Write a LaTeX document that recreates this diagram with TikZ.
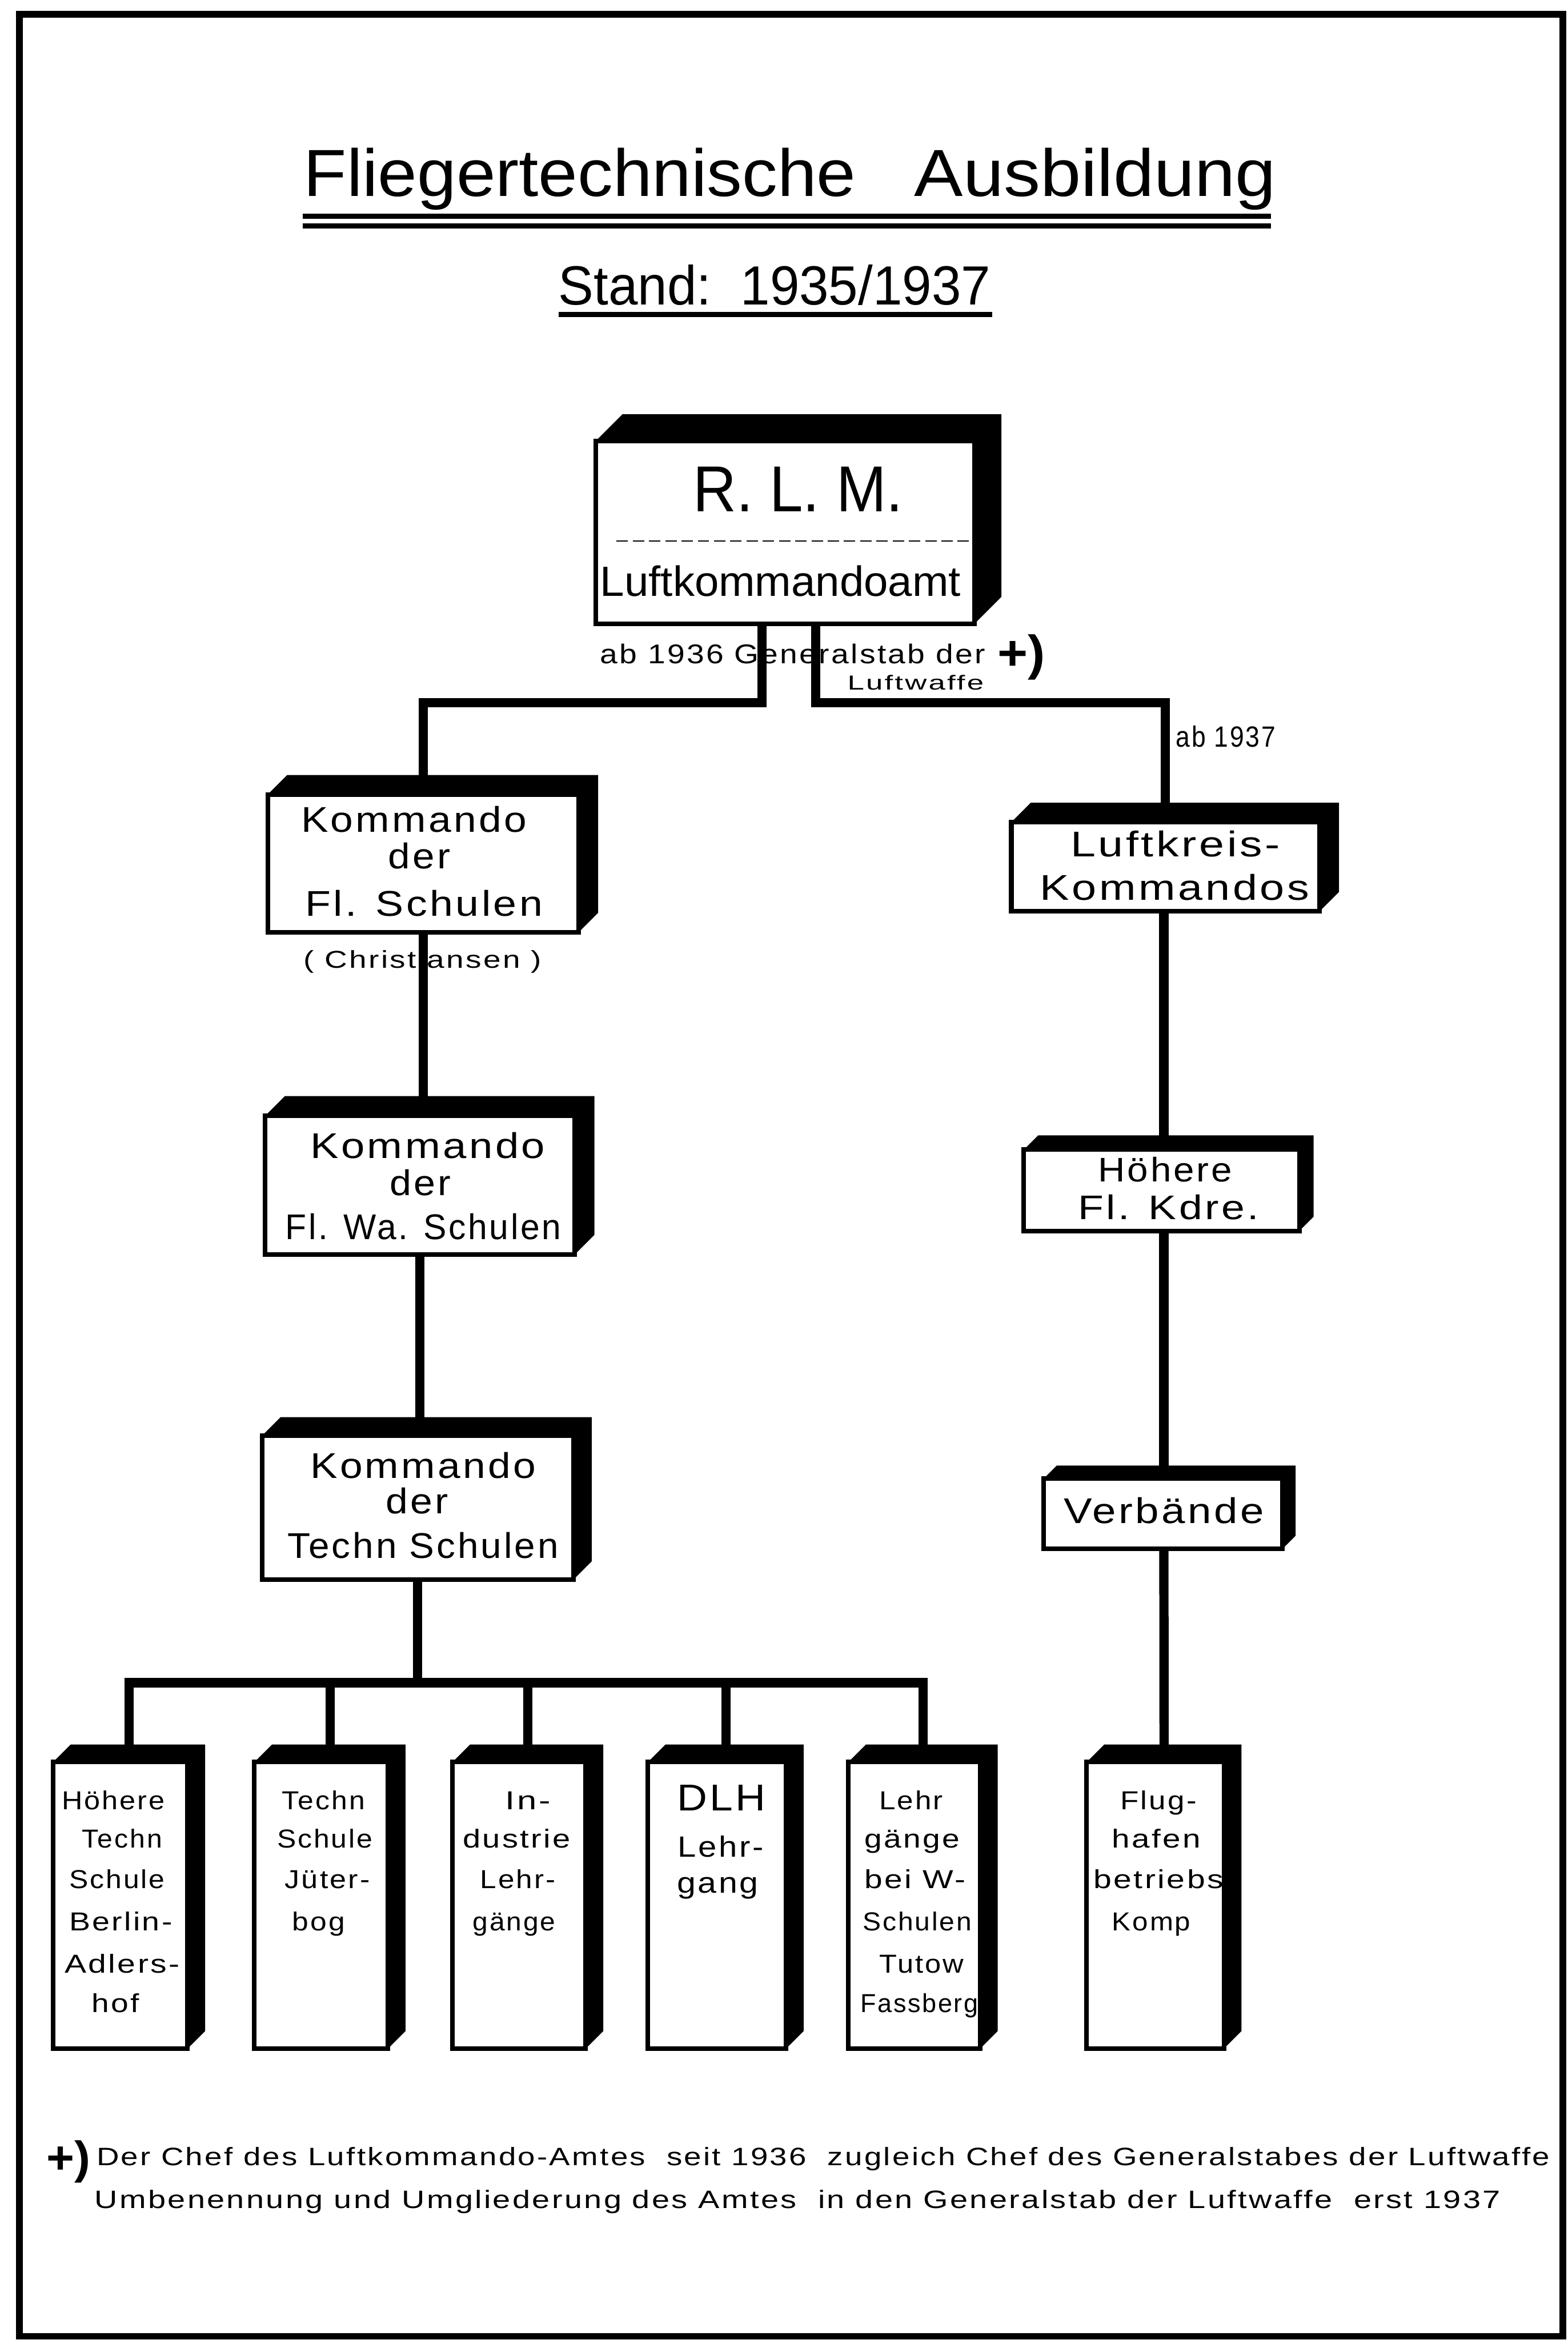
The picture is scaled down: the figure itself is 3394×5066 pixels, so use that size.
\documentclass[tikz,border=0pt]{standalone}
\usepackage{fontspec}
\setmainfont{Liberation Sans}
\newfontfamily\lsp[LetterSpace=6]{Liberation Sans}
\usetikzlibrary{calc}
\newcommand\fw[2]{\resizebox{#1}{\height}{#2}}
\newcommand\fs[1]{\fontsize{#1}{#1}\selectfont}
\newcommand\boxshadow[2]{%
  \fill (#1.north west) -- ++(#2,-#2) -- ($(#1.north east)+(#2,-#2)$)
    -- ($(#1.south east)+(#2,-#2)$) -- (#1.south east) -- (#1.north east) -- cycle;}
\tikzset{
  txt/.style={anchor=base, inner sep=0pt, outer sep=0pt},
  box/.style={draw, line width=2.85pt, fill=white, inner sep=0pt, outer sep=0pt},
  conn/.style={line width=5.7pt, line join=miter},
  rulel/.style={line width=3pt},
}
\begin{document}
\begin{tikzpicture}[x=0.01cm,y=-0.01cm]
\useasboundingbox (0,0) rectangle (3394,5066);
\draw[line width=4pt] (42,31) rectangle (3384,5058);

% title
\node[txt, font=\fs{41}] (title1) at (1255.5,425) {\fw{11.95cm}{Fliegertechnische}};
\node[txt, font=\fs{41}] (title2) at (2371.5,425) {\fw{7.83cm}{Ausbildung}};
\draw[rulel] (655,468) -- (2752,468);
\draw[rulel] (655,489) -- (2752,489);
\node[txt, font=\fs{34}] (sub) at (1677,660) {\fw{9.35cm}{Stand:~~1935/1937}};
\draw[rulel] (1210,681) -- (2148,681);

% labels under RLM
\node[txt, font=\fs{16.7}\lsp] (lab1) at (1716.5,1437) {\fw{8.33cm}{ab 1936 Generalstab der}};
\node[txt, font=\fs{12.5}\lsp] (lab2) at (1982.5,1494) {\fw{2.95cm}{Luftwaffe}};
\node[inner sep=0pt, font=\fs{30}\bfseries] (plus1) at (2211,1423) {\fw{1.03cm}{+)}};
\node[txt, font=\fs{18}\lsp] (lab3) at (2654,1617) {\fw{2.15cm}{ab 1937}};
\node[txt, font=\fs{15}\lsp] (chr) at (915,2096) {\fw{5.14cm}{( Christiansen )}};

% boxes
\node[box, minimum width=8.20cm, minimum height=3.95cm] (rlm) at (1700,1152.5) {};
\boxshadow{rlm}{58}
\node[box, minimum width=6.73cm, minimum height=2.98cm] (kfs) at (916.5,1869) {};
\boxshadow{kfs}{42}
\node[box, minimum width=6.70cm, minimum height=3.00cm] (kfws) at (909,2566) {};
\boxshadow{kfws}{43}
\node[box, minimum width=6.73cm, minimum height=3.12cm] (kts) at (904.5,3264) {};
\boxshadow{kts}{40}
\node[box, minimum width=6.67cm, minimum height=1.93cm] (lk) at (2523.5,1876.5) {};
\boxshadow{lk}{42}
\node[box, minimum width=5.96cm, minimum height=1.76cm] (hfk) at (2515,2577) {};
\boxshadow{hfk}{31}
\node[box, minimum width=5.17cm, minimum height=1.52cm] (vb) at (2518.5,3277) {};
\boxshadow{vb}{28}
\node[box, minimum width=2.91cm, minimum height=6.20cm] (bA) at (260.5,4125) {};
\boxshadow{bA}{38}
\node[box, minimum width=2.89cm, minimum height=6.20cm] (bB) at (695.5,4125) {};
\boxshadow{bB}{38}
\node[box, minimum width=2.88cm, minimum height=6.20cm] (bC) at (1124,4125) {};
\boxshadow{bC}{38}
\node[box, minimum width=2.99cm, minimum height=6.20cm] (bD) at (1552.5,4125) {};
\boxshadow{bD}{38}
\node[box, minimum width=2.85cm, minimum height=6.20cm] (bE) at (1979.5,4125) {};
\boxshadow{bE}{38}
\node[box, minimum width=2.97cm, minimum height=6.20cm] (bF) at (2501.5,4125) {};
\boxshadow{bF}{38}

% RLM contents
\node[txt, font=\fs{40}] (rlm1) at (1728,1108) {\fw{4.55cm}{R. L. M.}};
\draw[line width=0.8pt, dash pattern=on 7pt off 3pt] (1335,1171) -- (2105,1171);
\node[txt, font=\fs{26}] (rlm2) at (1690,1290) {\fw{7.80cm}{Luftkommandoamt}};

% left column texts
\node[txt, font=\fs{22}\lsp] (kfs1) at (896,1802) {\fw{4.88cm}{Kommando}};
\node[txt, font=\fs{22}\lsp] (kfs2) at (908,1881) {\fw{1.34cm}{der}};
\node[txt, font=\fs{22}\lsp] (kfs3) at (918,1983) {\fw{5.14cm}{Fl. Schulen}};

\node[txt, font=\fs{22}\lsp] (kfws1) at (926,2508) {\fw{5.08cm}{Kommando}};
\node[txt, font=\fs{22}\lsp] (kfws2) at (910,2588) {\fw{1.32cm}{der}};
\node[txt, font=\fs{22}\lsp] (kfws3) at (916.5,2683) {\fw{5.97cm}{Fl. Wa. Schulen}};

\node[txt, font=\fs{22}\lsp] (kts1) at (916,3200) {\fw{4.88cm}{Kommando}};
\node[txt, font=\fs{22}\lsp] (kts2) at (903,3277) {\fw{1.35cm}{der}};
\node[txt, font=\fs{22}\lsp] (kts3) at (916,3373) {\fw{5.86cm}{Techn Schulen}};

% right column texts
\node[txt, font=\fs{22}\lsp] (lk1) at (2545,1855) {\fw{4.54cm}{Luftkreis-}};
\node[txt, font=\fs{22}\lsp] (lk2) at (2543.5,1948) {\fw{5.83cm}{Kommandos}};
\node[txt, font=\fs{21}\lsp] (hfk1) at (2523,2558) {\fw{2.90cm}{Höhere}};
\node[txt, font=\fs{21}\lsp] (hfk2) at (2530,2640) {\fw{3.91cm}{Fl. Kdre.}};
\node[txt, font=\fs{22}\lsp] (vb1) at (2520,3298) {\fw{4.33cm}{Verbände}};

% bottom boxes texts
\node[txt, font=\fs{16}\lsp] (a1) at (245.5,3917) {\fw{2.23cm}{Höhere}};
\node[txt, font=\fs{16}\lsp] (a2) at (264.5,4000) {\fw{1.73cm}{Techn}};
\node[txt, font=\fs{16}\lsp] (a3) at (253.5,4088) {\fw{2.07cm}{Schule}};
\node[txt, font=\fs{16}\lsp] (a4) at (261.5,4180) {\fw{2.23cm}{Berlin-}};
\node[txt, font=\fs{16}\lsp] (a5) at (264.5,4271) {\fw{2.49cm}{Adlers-}};
\node[txt, font=\fs{16}\lsp] (a6) at (250.5,4357) {\fw{1.03cm}{hof}};

\node[txt, font=\fs{16}\lsp] (b1) at (700.5,3917) {\fw{1.79cm}{Techn}};
\node[txt, font=\fs{16}\lsp] (b2) at (703.5,4000) {\fw{2.07cm}{Schule}};
\node[txt, font=\fs{16}\lsp] (b3) at (709,4088) {\fw{1.84cm}{Jüter-}};
\node[txt, font=\fs{16}\lsp] (b4) at (690,4180) {\fw{1.14cm}{bog}};

\node[txt, font=\fs{16}\lsp] (c1) at (1143,3917) {\fw{0.98cm}{In-}};
\node[txt, font=\fs{16}\lsp] (c2) at (1118.5,4000) {\fw{2.33cm}{dustrie}};
\node[txt, font=\fs{16}\lsp] (c3) at (1121.5,4088) {\fw{1.63cm}{Lehr-}};
\node[txt, font=\fs{16}\lsp] (c4) at (1113.5,4180) {\fw{1.79cm}{gänge}};

\node[txt, font=\fs{23}\lsp] (d1) at (1562,3920) {\fw{1.92cm}{DLH}};
\node[txt, font=\fs{18}\lsp] (d2) at (1560.5,4020) {\fw{1.85cm}{Lehr-}};
\node[txt, font=\fs{18}\lsp] (d3) at (1554,4098) {\fw{1.76cm}{gang}};

\node[txt, font=\fs{16}\lsp] (e1) at (1973,3917) {\fw{1.38cm}{Lehr}};
\node[txt, font=\fs{16}\lsp] (e2) at (1975,4000) {\fw{2.06cm}{gänge}};
\node[txt, font=\fs{16}\lsp] (e3) at (1981.5,4088) {\fw{2.19cm}{bei W-}};
\node[txt, font=\fs{16}\lsp] (e4) at (1986,4180) {\fw{2.36cm}{Schulen}};
\node[txt, font=\fs{16}\lsp] (e5) at (1995.5,4271) {\fw{1.83cm}{Tutow}};
\node[txt, font=\fs{16}\lsp] (e6) at (1990.5,4357) {\fw{2.55cm}{Fassberg}};

\node[txt, font=\fs{16}\lsp] (f1) at (2508.5,3917) {\fw{1.65cm}{Flug-}};
\node[txt, font=\fs{16}\lsp] (f2) at (2504,4000) {\fw{1.92cm}{hafen}};
\node[txt, font=\fs{16}\lsp] (f3) at (2508.5,4088) {\fw{2.81cm}{betriebs}};
\node[txt, font=\fs{16}\lsp] (f4) at (2493,4180) {\fw{1.70cm}{Komp}};

% footnote
\node[inner sep=0pt, font=\fs{28}\bfseries] (plus2) at (148,4680) {\fw{0.95cm}{+)}};
\node[txt, font=\fs{15.5}\lsp] (fn1) at (1782.5,4688) {\fw{31.45cm}{Der Chef des Luftkommando-Amtes\ \ seit 1936\ \ zugleich Chef des Generalstabes der Luftwaffe}};
\node[txt, font=\fs{15.5}\lsp] (fn2) at (1727,4781) {\fw{30.42cm}{Umbenennung und Umgliederung des Amtes\ \ in den Generalstab der Luftwaffe\ \ erst 1937}};

% connectors
\coordinate (jy) at (0,1521);
\coordinate (rl) at (1650,0);
\coordinate (rr) at (1766,0);
\coordinate (cy) at (0,3643);
\coordinate (rc) at (2520,0);
\coordinate (tA) at ([xshift=0.19cm]bA.north);
\coordinate (tB) at ([xshift=0.19cm]bB.north);
\coordinate (tC) at ([xshift=0.19cm]bC.north);
\coordinate (tD) at ([xshift=0.19cm]bD.north);
\coordinate (tE) at ([xshift=0.19cm]bE.north);
\coordinate (tF) at ([xshift=0.19cm]bF.north);

\draw[conn] (rlm.south -| rl) -- (rl |- jy) -| (kfs.north);
\draw[conn] (rlm.south -| rr) -- (rr |- jy) -| (lk.north);
\draw[conn] (kfs.south) -- (kfs.south |- kfws.north);
\draw[conn] (kfws.south) -- (kfws.south |- kts.north);
\draw[conn] (kts.south) -- (kts.south |- cy);
\draw[conn] (tA) -- (tA |- cy) -- (tE |- cy) -- (tE);
\draw[conn] (tB |- cy) -- (tB);
\draw[conn] (tC |- cy) -- (tC);
\draw[conn] (tD |- cy) -- (tD);
\draw[conn] (lk.south -| rc) -- (hfk.north -| rc);
\draw[conn] (hfk.south -| rc) -- (vb.north -| rc);
\draw[conn] (vb.south -| rc) -- (tF);
\end{tikzpicture}
\end{document}
